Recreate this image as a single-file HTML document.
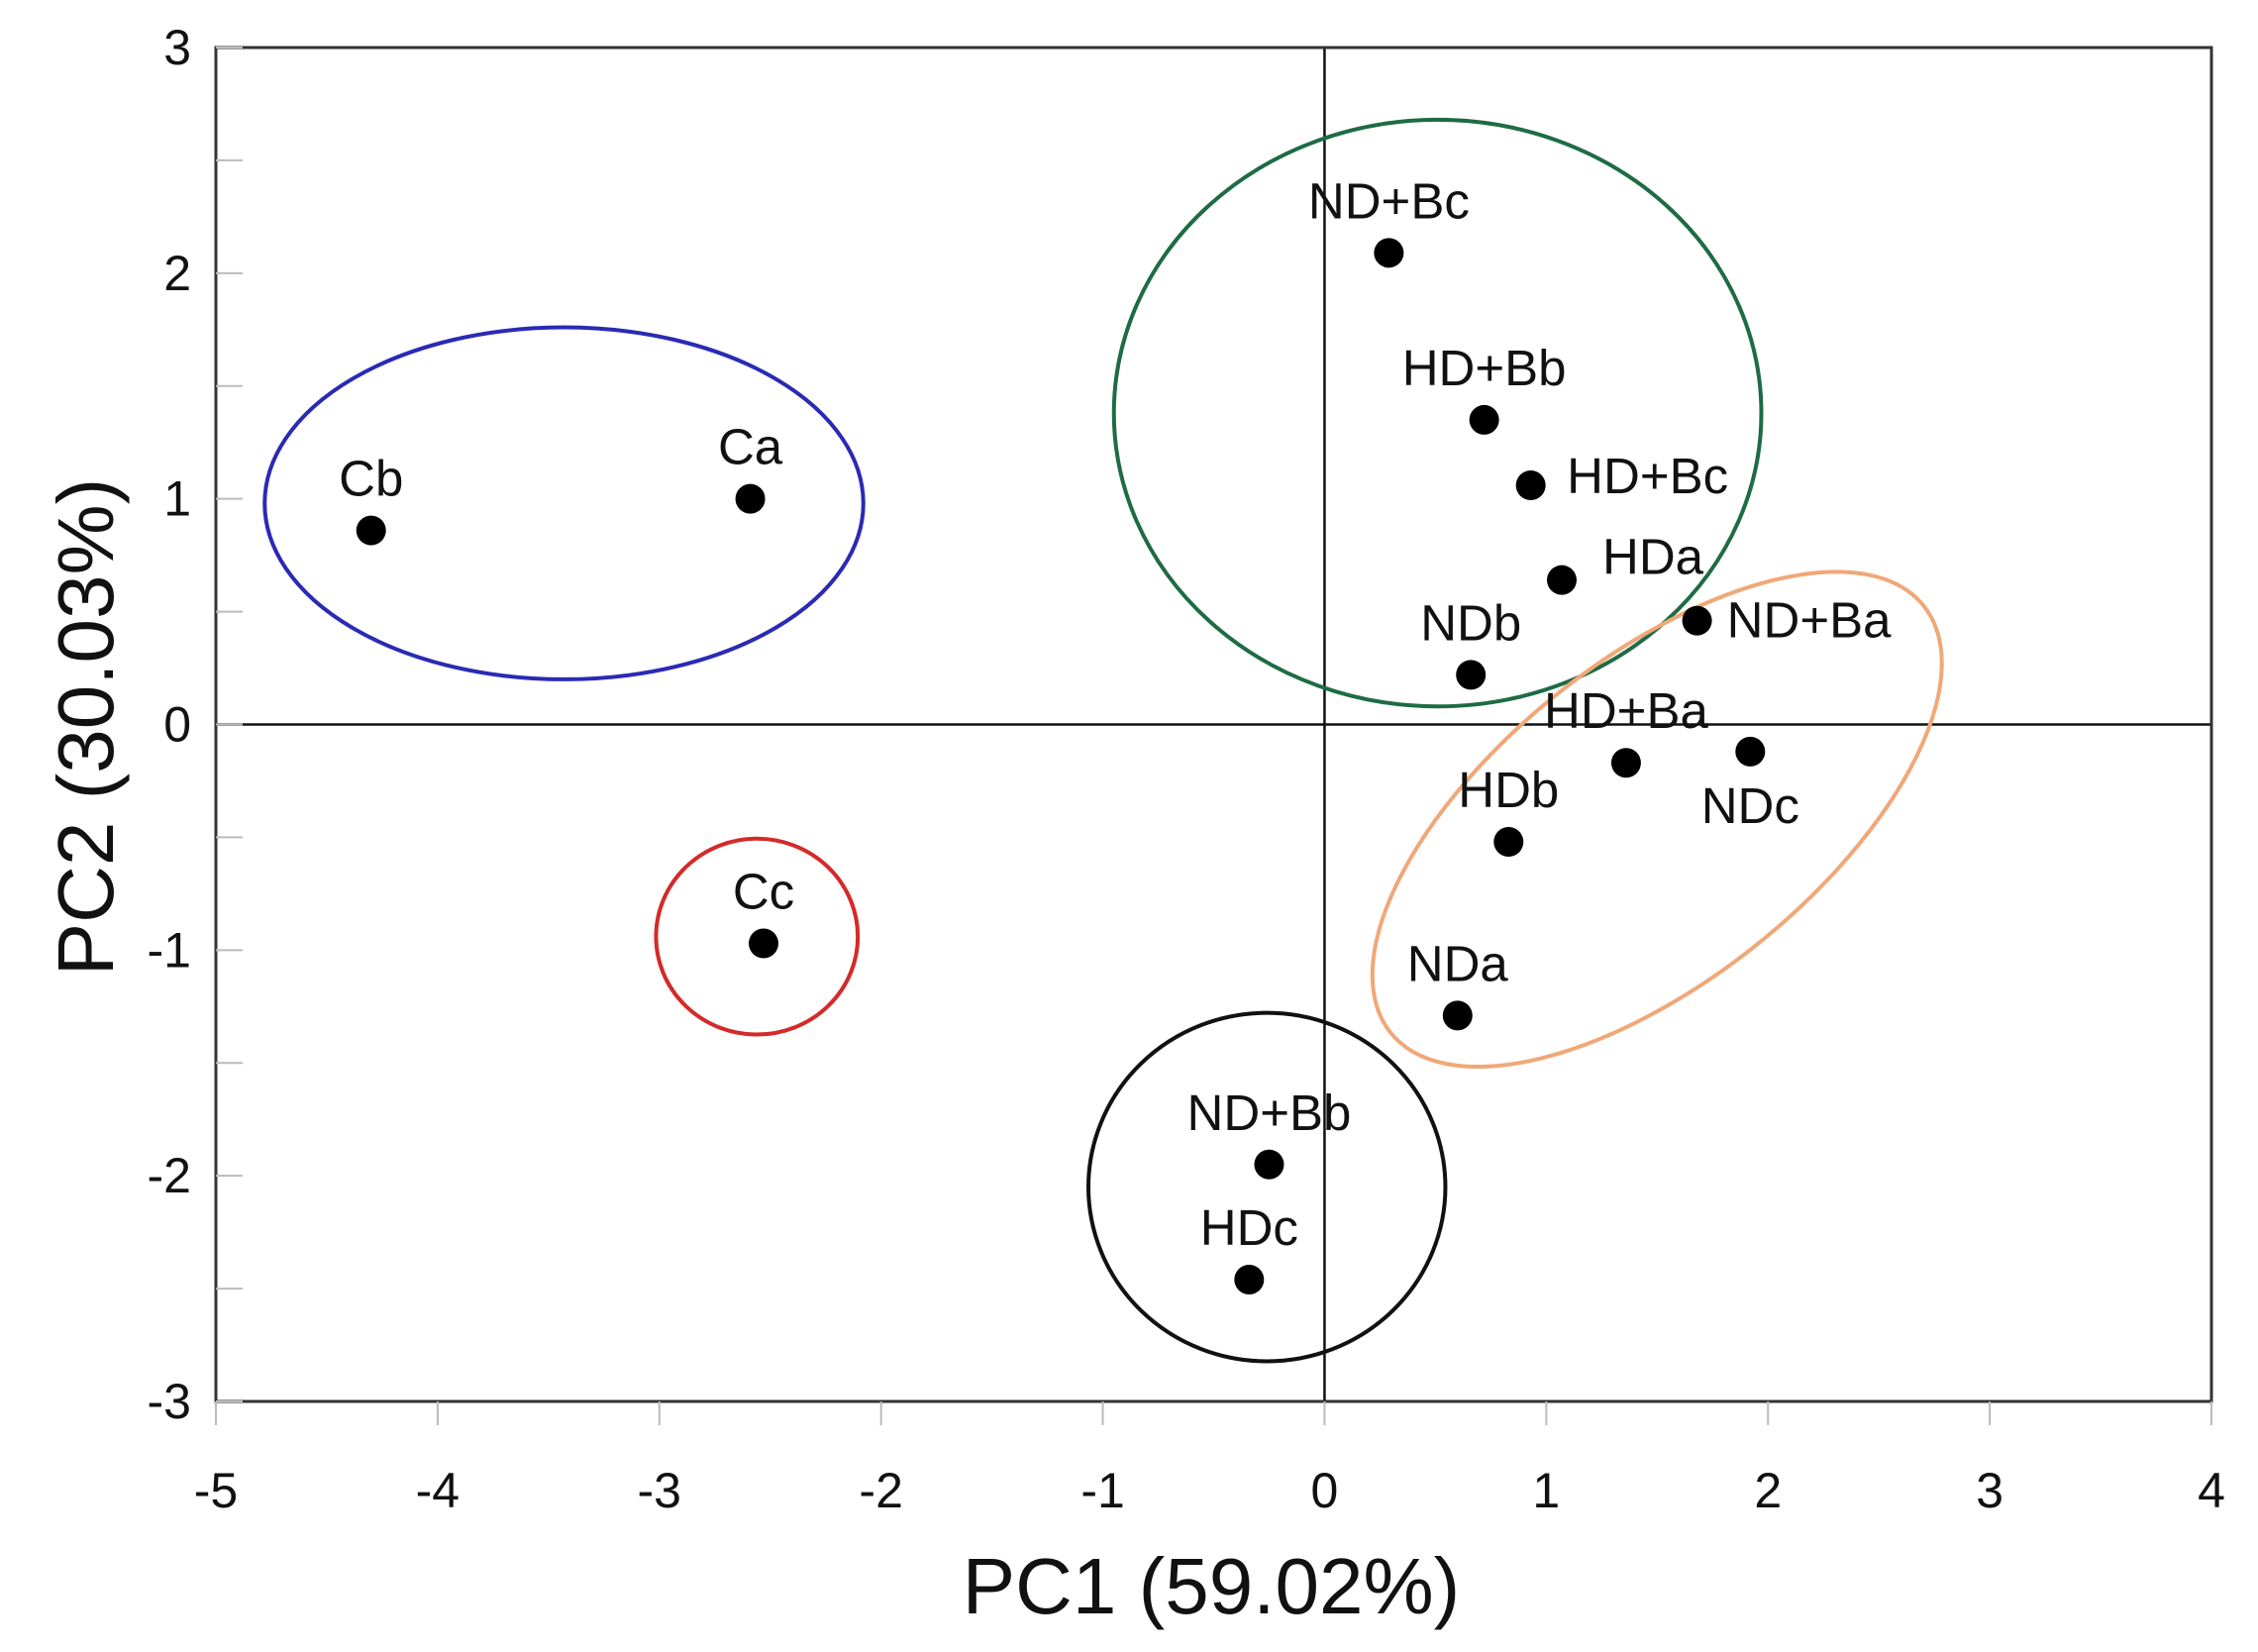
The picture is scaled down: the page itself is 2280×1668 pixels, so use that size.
<!DOCTYPE html>
<html><head><meta charset="utf-8"><style>
html,body{margin:0;padding:0;background:#fff}
svg{display:block;font-family:"Liberation Sans","DejaVu Sans",sans-serif}
</style></head><body>
<svg id="chart" width="2280" height="1668" viewBox="0 0 2280 1668">
<g id="grid"></g><g id="ell"></g><g id="pts"></g><g id="axes"></g>
</svg>
<script>
const sampleNames = ["Cb","Ca","Cc","ND+Bc","HD+Bb","HD+Bc","HDa","ND+Ba","NDb","HD+Ba","NDc","HDb","NDa","ND+Bb","HDc"];
const pc1Values = [-4.30,-2.59,-2.53,0.29,0.72,0.93,1.07,1.68,0.66,1.36,1.92,0.83,0.60,-0.25,-0.34];
const pc2Values = [0.86,1.00,-0.97,2.09,1.35,1.06,0.64,0.46,0.22,-0.17,-0.12,-0.52,-1.29,-1.95,-2.46];
const labelSide = ["top","top","top","top","top","right","right2","right3","top","top","bottom","top","top","top","top"];
const xTicks = [-5,-4,-3,-2,-1,0,1,2,3,4];
const yTicks = [-3,-2,-1,0,1,2,3];
const ellCx = [-3.43,0.51,-2.56,-0.26,1.50];
const ellCy = [0.98,1.38,-0.94,-2.05,-0.42];
const ellRx = [1.35,1.46,0.455,0.805,1.54];
const ellRy = [0.78,1.30,0.434,0.772,0.71];
const ellRot = [0,0,0,0,-38.7];
const ellColors = ["#2a2ab4","#1e6b45","#d42a2a","#111111","#f0a878"];
const ellNames = ["control-cluster-ellipse","treated-b-cluster-ellipse","cc-cluster-ellipse","hdc-cluster-ellipse","nd-hd-cluster-ellipse"];

const L=218,R=2233,T=48,B=1415;
const sx=v=>L+(v+5)/9*(R-L);
const sy=v=>B-(v+3)/6*(B-T);
const NS="http://www.w3.org/2000/svg";
function mk(tag,attrs,parent,text){const e=document.createElementNS(NS,tag);for(const k in attrs)e.setAttribute(k,attrs[k]);if(text!==undefined)e.textContent=text;parent.appendChild(e);return e;}
const G=document.getElementById('grid'),E=document.getElementById('ell'),P=document.getElementById('pts'),A=document.getElementById('axes');

let fr=mk('rect',{x:L,y:T,width:R-L,height:B-T,fill:'none',stroke:'#333',"stroke-width":3},A);


let zx=mk('line',{x1:sx(0),x2:sx(0),y1:T,y2:B,stroke:'#111',"stroke-width":2.5},G);


let zy=mk('line',{x1:L,x2:R,y1:sy(0),y2:sy(0),stroke:'#111',"stroke-width":2.5},G);



xTicks.forEach(v=>{
  let t=mk('line',{x1:sx(v),x2:sx(v),y1:B,y2:B+24,stroke:'#bbb',"stroke-width":2},A);
  
  
  let l=mk('text',{x:sx(v),y:1522,"text-anchor":"middle","font-size":50,fill:'#111'},A,String(v));
  
  
});
for(let v=-3;v<=3.001;v+=0.5){
  let t=mk('line',{x1:L,x2:L+27,y1:sy(v),y2:sy(v),stroke:'#bbb',"stroke-width":2},A);
  
  
}
yTicks.forEach(v=>{
  let l=mk('text',{x:193,y:sy(v)+17,"text-anchor":"end","font-size":50,fill:'#111'},A,String(v));
  
  
});
let xt=mk('text',{x:1223,y:1629,"text-anchor":"middle","font-size":80,fill:'#111'},A,'PC1 (59.02%)');


let yt=mk('text',{x:0,y:0,"text-anchor":"middle","font-size":80,fill:'#111',transform:'translate(114,734) rotate(-90)'},A,'PC2 (30.03%)');



const ux=(R-L)/9, uy=(B-T)/6;
ellCx.forEach((c,i)=>{
  let e=mk('ellipse',{cx:sx(c),cy:sy(ellCy[i]),rx:ellRx[i]*ux,ry:ellRy[i]*uy,fill:'none',stroke:ellColors[i],"stroke-width":4,transform:`rotate(${ellRot[i]} ${sx(c)} ${sy(ellCy[i])})`},E);
  
  
});

const off={top:[0,-52],bottom:[0,55],right:[118,-9],right2:[92,-23],right3:[113,0]};
sampleNames.forEach((n,i)=>{
  const x=sx(pc1Values[i]),y=sy(pc2Values[i]);
  let d=mk('circle',{cx:x,cy:y,r:15,fill:'#000'},P);
  
  
  const o=off[labelSide[i]];
  let t=mk('text',{x:x+o[0],y:y+o[1]+17,"text-anchor":"middle","font-size":51,fill:'#111'},P,n);
  
  
});
</script>
</body></html>
